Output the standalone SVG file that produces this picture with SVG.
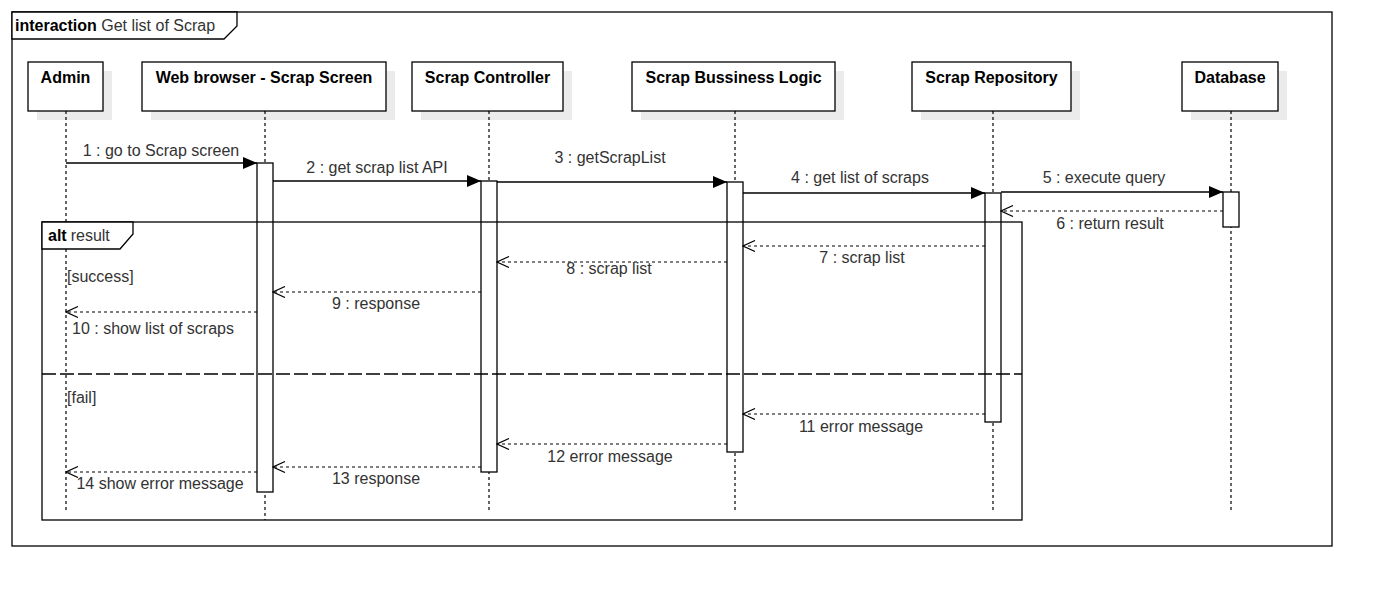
<svg xmlns="http://www.w3.org/2000/svg" width="1382" height="596" viewBox="0 0 1382 596">
<defs>
<style>
.frame{fill:none;stroke:#000;stroke-width:1.3}
.lbl{fill:#fff;stroke:#000;stroke-width:1.3}
.box{fill:#fff;stroke:#000;stroke-width:1.3}
.shadow{fill:#ebebeb;stroke:none}
.life{stroke:#000;stroke-width:1.2;stroke-dasharray:3 3;fill:none}
.act{fill:#fff;stroke:#000;stroke-width:1.3}
.call{stroke:#000;stroke-width:1.3;fill:none;marker-end:url(#filled)}
.ret{stroke:#000;stroke-width:1.2;stroke-dasharray:3 3;fill:none;marker-end:url(#open)}
.sep{stroke:#000;stroke-width:1.3;stroke-dasharray:14 4;fill:none}
text{font-family:"Liberation Sans",Arial,sans-serif;font-size:16px}
.title{font-weight:bold;fill:#000;text-anchor:middle}
.msg{fill:#333;text-anchor:middle}
.ml{fill:#333}
.b{font-weight:bold}
</style>
<marker id="filled" viewBox="0 0 14 12" refX="14" refY="6" markerWidth="14" markerHeight="12" markerUnits="userSpaceOnUse" orient="auto">
<path d="M0,0 L14,6 L0,12 Z" fill="#000"/>
</marker>
<marker id="open" viewBox="0 0 14 12" refX="13" refY="6" markerWidth="14" markerHeight="12" markerUnits="userSpaceOnUse" orient="auto">
<path d="M1,0.5 L13,6 L1,11.5" fill="none" stroke="#000" stroke-width="1.2"/>
</marker>
</defs>

<g id="interaction-frame">
<rect class="frame" x="12" y="12" width="1320" height="534"/>
<path class="lbl" d="M12,12 H237 V26 L224,39 H12 Z"/>
<text x="15" y="31" class="ml"><tspan class="b" fill="#000">interaction</tspan> Get list of Scrap</text>
</g>

<g id="admin">
<rect class="shadow" x="37" y="71" width="75" height="49"/>
<rect class="box" x="28" y="62" width="75" height="49"/>
<text class="title" x="65.5" y="83">Admin</text>
<line class="life" x1="66" y1="111" x2="66" y2="512"/>
</g>
<g id="web-browser">
<rect class="shadow" x="151" y="71" width="244" height="49"/>
<rect class="box" x="142" y="62" width="244" height="49"/>
<text class="title" x="264" y="83">Web browser - Scrap Screen</text>
<line class="life" x1="265" y1="111" x2="265" y2="520"/>
<rect class="act" x="257" y="163" width="16" height="329"/>
</g>
<g id="scrap-controller">
<rect class="shadow" x="421" y="71" width="151" height="49"/>
<rect class="box" x="412" y="62" width="151" height="49"/>
<text class="title" x="487.5" y="83">Scrap Controller</text>
<line class="life" x1="489" y1="111" x2="489" y2="512"/>
<rect class="act" x="481" y="181" width="16" height="291"/>
</g>
<g id="scrap-business-logic">
<rect class="shadow" x="641" y="71" width="203" height="49"/>
<rect class="box" x="632" y="62" width="203" height="49"/>
<text class="title" x="733.5" y="83">Scrap Bussiness Logic</text>
<line class="life" x1="735" y1="111" x2="735" y2="512"/>
<rect class="act" x="727" y="182" width="16" height="270"/>
</g>
<g id="scrap-repository">
<rect class="shadow" x="921" y="71" width="159" height="49"/>
<rect class="box" x="912" y="62" width="159" height="49"/>
<text class="title" x="991.5" y="83">Scrap Repository</text>
<line class="life" x1="993" y1="111" x2="993" y2="512"/>
<rect class="act" x="985" y="193" width="16" height="229"/>
</g>
<g id="database">
<rect class="shadow" x="1191" y="71" width="96" height="49"/>
<rect class="box" x="1182" y="62" width="96" height="49"/>
<text class="title" x="1230" y="83">Database</text>
<line class="life" x1="1231" y1="111" x2="1231" y2="512"/>
<rect class="act" x="1223" y="192" width="16" height="35"/>
</g>

<g id="alt-frame">
<rect class="frame" x="42" y="222" width="980" height="298"/>
<path class="lbl" d="M42,222 H133 V234 L120,249 H42 Z"/>
<text x="48" y="241" class="ml"><tspan class="b" fill="#000">alt</tspan><tspan dx="4">result</tspan></text>
<text x="67" y="282" class="ml">[success]</text>
<line class="sep" x1="42" y1="374" x2="1022" y2="374"/>
<text x="67" y="403" class="ml">[fail]</text>
</g>

<g id="connectors">
<line class="call" x1="66" y1="163" x2="257" y2="163"/>
<text class="msg" x="161" y="156">1 : go to Scrap screen</text>
<line class="call" x1="273" y1="181" x2="481" y2="181"/>
<text class="msg" x="377" y="173">2 : get scrap list API</text>
<line class="call" x1="497" y1="182" x2="727" y2="182"/>
<text class="msg" x="610" y="163">3 : getScrapList</text>
<line class="call" x1="743" y1="193" x2="985" y2="193"/>
<text class="msg" x="860" y="183">4 : get list of scraps</text>
<line class="call" x1="1001" y1="192" x2="1223" y2="192"/>
<text class="msg" x="1104" y="183">5 : execute query</text>
<line class="ret" x1="1223" y1="211" x2="1001" y2="211"/>
<text class="msg" x="1110" y="229">6 : return result</text>
<line class="ret" x1="985" y1="246" x2="743" y2="246"/>
<text class="msg" x="862" y="263">7 : scrap list</text>
<line class="ret" x1="727" y1="262" x2="497" y2="262"/>
<text class="msg" x="609" y="274">8 : scrap list</text>
<line class="ret" x1="481" y1="292" x2="273" y2="292"/>
<text class="msg" x="376" y="309">9 : response</text>
<line class="ret" x1="257" y1="312" x2="66" y2="312"/>
<text class="msg" x="153" y="334">10 : show list of scraps</text>
<line class="ret" x1="985" y1="414" x2="743" y2="414"/>
<text class="msg" x="861" y="432">11 error message</text>
<line class="ret" x1="727" y1="444" x2="497" y2="444"/>
<text class="msg" x="610" y="462">12 error message</text>
<line class="ret" x1="481" y1="467" x2="273" y2="467"/>
<text class="msg" x="376" y="484">13 response</text>
<line class="ret" x1="257" y1="472" x2="66" y2="472"/>
<text class="msg" x="160" y="489">14 show error message</text>
</g>
</svg>
